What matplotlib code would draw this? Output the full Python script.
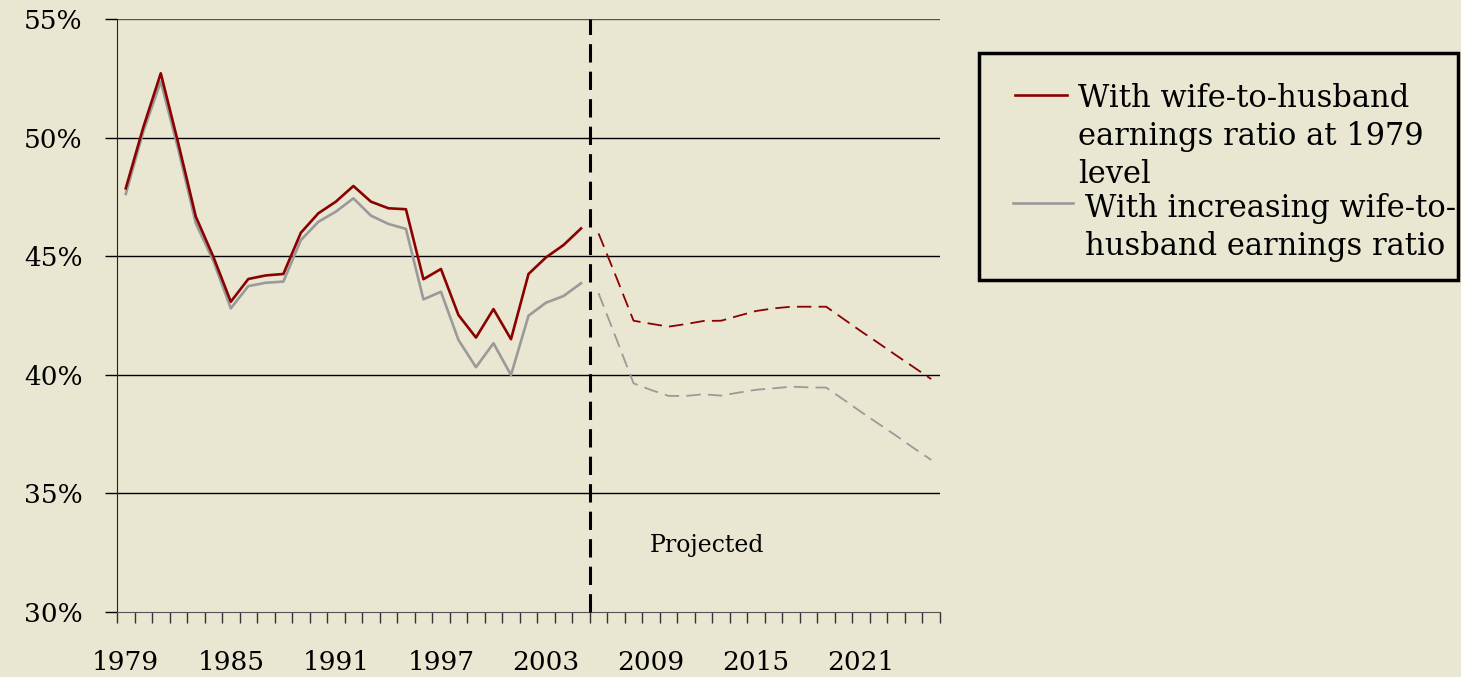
import matplotlib
matplotlib.use("Agg")
import matplotlib.pyplot as plt
from matplotlib.lines import Line2D
from matplotlib.patches import Rectangle

# ---- data ----
years = list(range(1979, 2026))
hist_years = list(range(1979, 2006))
proj_years = list(range(2006, 2026))

fixed_hist = [47.86, 50.43, 52.71, 49.76, 46.67, 44.98, 43.08, 44.04, 44.19, 44.25,
              45.99, 46.81, 47.30, 47.96, 47.30, 47.02, 46.98, 44.03, 44.46, 42.52,
              41.57, 42.77, 41.50, 44.25, 44.95, 45.47, 46.17]
incr_hist = [47.62, 50.25, 52.36, 49.50, 46.39, 44.80, 42.80, 43.74, 43.88, 43.93,
             45.68, 46.45, 46.88, 47.44, 46.71, 46.36, 46.15, 43.18, 43.50, 41.47,
             40.32, 41.33, 39.99, 42.49, 43.04, 43.32, 43.86]
fixed_proj = [45.96, 44.14, 42.28, 42.15, 42.03, 42.14, 42.27, 42.28, 42.49, 42.69,
              42.80, 42.87, 42.87, 42.87, 42.35, 41.83, 41.33, 40.82, 40.32, 39.82]
incr_proj = [43.44, 41.55, 39.64, 39.36, 39.11, 39.11, 39.18, 39.12, 39.25, 39.37,
             39.43, 39.50, 39.47, 39.46, 38.95, 38.43, 37.93, 37.43, 36.91, 36.41]

label_fixed_lines = ["With wife-to-husband", "earnings ratio at 1979", "level"]
label_incr_lines = ["With increasing wife-to-", "husband earnings ratio"]
yticks = [30, 35, 40, 45, 50, 55]
ytick_labels = ["30%", "35%", "40%", "45%", "50%", "55%"]
xlabel_years = [1979, 1985, 1991, 1997, 2003, 2009, 2015, 2021]

BG = "#E9E6D1"
RED = "#8B0000"
GRAY = "#9A9A9A"
FONT = "DejaVu Serif"

fig = plt.figure(figsize=(14.61, 6.77), dpi=100, facecolor=BG)
ax = fig.add_axes([117/1461, 1-612/677, (940-117)/1461, (612-19)/677], facecolor=BG)

xi = {y: i for i, y in enumerate(years)}
hx = [xi[y] for y in hist_years]
px = [xi[y] for y in proj_years]

ax.plot(hx, incr_hist, color=GRAY, lw=1.9, zorder=3)
ax.plot(hx, fixed_hist, color=RED, lw=1.9, zorder=4)
ax.plot(px, incr_proj, color=GRAY, lw=1.3, dashes=(8, 4), zorder=3)
ax.plot(px, fixed_proj, color=RED, lw=1.3, dashes=(8, 4), zorder=4)

# projection divider
ax.axvline(xi[2005] + 0.5, color="black", lw=2.2, dashes=(6, 3), zorder=5, clip_on=False)

ax.set_xlim(-0.5, len(years) - 0.5)
ax.set_ylim(30, 55)

# grid
for v in yticks[1:]:
    ax.axhline(v, color="black" if v < 55 else "#555555", lw=1.0, zorder=1)

ax.set_yticks(yticks)
ax.set_yticklabels(ytick_labels, fontsize=19, family=FONT)
ax.tick_params(axis="y", direction="out", length=8.6, width=1, pad=16)

ax.set_xticks([i - 0.5 for i in range(len(years) + 1)])
ax.set_xticklabels([])
ax.set_xticks([xi[y] for y in xlabel_years], minor=True)
ax.set_xticklabels([str(y) for y in xlabel_years], minor=True, fontsize=19, family=FONT)
ax.tick_params(axis="x", which="major", direction="out", length=7.7, width=1, color="#333333")
ax.tick_params(axis="x", which="minor", length=0, pad=27)

for s in ["top", "right"]:
    ax.spines[s].set_visible(False)
ax.spines["left"].set_color("#222222")
ax.spines["bottom"].set_color("#555555")

ax.text(xi[2012] + 0.2, 32.8, "Projected", fontsize=17, family=FONT, ha="center", va="center")

# legend (manual)
fig.patches.append(Rectangle((979/1461, 1-280/677), (1458-979)/1461, (280-53)/677,
                             transform=fig.transFigure, facecolor=BG, edgecolor="black",
                             lw=2.5, zorder=1))
fig.add_artist(Line2D([1015/1461, 1067/1461], [1-95/677, 1-95/677], color=RED, lw=1.9,
                      transform=fig.transFigure))
fig.add_artist(Line2D([1013/1461, 1073/1461], [1-203/677, 1-203/677], color=GRAY, lw=1.9,
                      transform=fig.transFigure))
for k, line in enumerate(label_fixed_lines):
    fig.text(1078/1461, 1-(107 + 38*k)/677, line, fontsize=22, family=FONT,
             va="baseline", ha="left")
for k, line in enumerate(label_incr_lines):
    fig.text(1085/1461, 1-(217 + 38*k)/677, line, fontsize=22, family=FONT,
             va="baseline", ha="left")

fig.savefig("out.png", dpi=100, facecolor=BG)
